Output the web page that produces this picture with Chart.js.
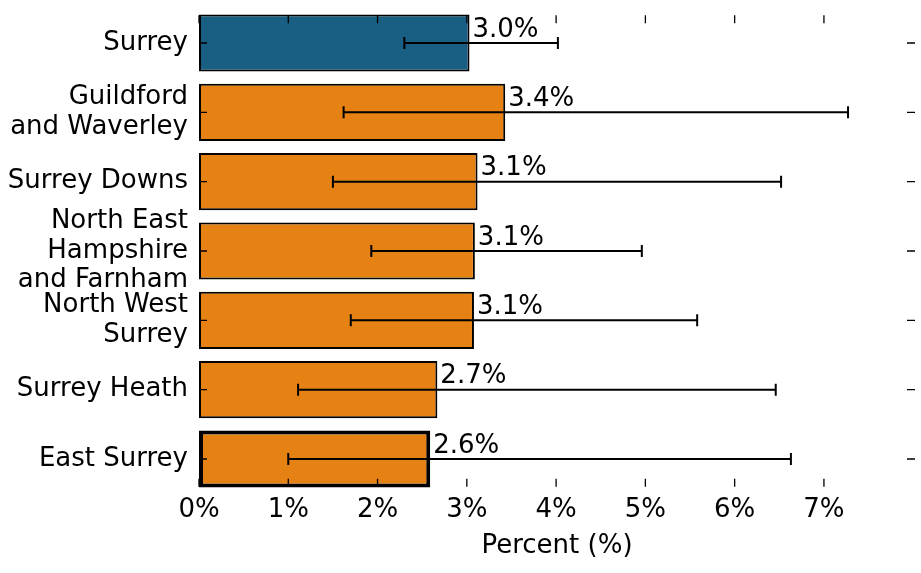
<!DOCTYPE html>
<html>
<head>
<meta charset="utf-8">
<script src="https://cdn.jsdelivr.net/npm/chart.js@4.4.1/dist/chart.umd.min.js"></script>
<style>
  html, body { margin: 0; padding: 0; background: #fff; }
  #wrap { width: 921px; height: 573px; }
</style>
</head>
<body>
<div id="wrap"><canvas id="c" width="921" height="573"></canvas></div>
<script>
const categories = ['Surrey', ['Guildford', 'and Waverley'], 'Surrey Downs', ['North East', 'Hampshire', 'and Farnham'], ['North West', 'Surrey'], 'Surrey Heath', 'East Surrey'];
const values = [3.03, 3.43, 3.12, 3.09, 3.08, 2.67, 2.59];
const lowerCI = [2.30, 1.62, 1.50, 1.93, 1.70, 1.11, 1.00];
const upperCI = [4.02, 7.27, 6.52, 4.96, 5.58, 6.46, 6.63];
const valueLabels = ['3.0%', '3.4%', '3.1%', '3.1%', '3.1%', '2.7%', '2.6%'];
const xTickValues = [0, 1, 2, 3, 4, 5, 6, 7];

const FONT = '"DejaVu Sans", sans-serif';
const barColors = ['#185f83', '#e68214', '#e68214', '#e68214', '#e68214', '#e68214', '#e68214'];
const barBorders = [2, 2, 2, 2, 2, 2, 4];

const overlay = {
  id: 'overlay',
  afterDatasetsDraw(chart) {
    const { ctx, scales: { x, y } } = chart;
    ctx.save();
    // error bars
    ctx.strokeStyle = '#000';
    ctx.lineWidth = 2;
    categories.forEach((c, i) => {
      const yc = y.getPixelForValue(i);
      const x0 = x.getPixelForValue(lowerCI[i]);
      const x1 = x.getPixelForValue(upperCI[i]);
      ctx.beginPath();
      ctx.moveTo(x0, yc); ctx.lineTo(x1, yc);
      ctx.moveTo(x0, yc - 6); ctx.lineTo(x0, yc + 6);
      ctx.moveTo(x1, yc - 6); ctx.lineTo(x1, yc + 6);
      ctx.stroke();
    });
    // value labels
    ctx.font = '26px ' + FONT;
    ctx.fillStyle = '#000';
    ctx.textAlign = 'left';
    ctx.textBaseline = 'bottom';
    values.forEach((v, i) => {
      ctx.fillText(valueLabels[i], x.getPixelForValue(v) + 3, y.getPixelForValue(i));
    });
    // inward tick marks
    const top = y.getPixelForValue(-0.4);
    const bottom = y.getPixelForValue(categories.length - 1 + 0.4);
    const left = x.getPixelForValue(0);
    const right = x.right;
    const tl = 8;
    ctx.lineWidth = 1.3;
    ctx.beginPath();
    xTickValues.forEach(v => {
      const px = x.getPixelForValue(v);
      ctx.moveTo(px, top); ctx.lineTo(px, top + tl);
      ctx.moveTo(px, bottom); ctx.lineTo(px, bottom - tl);
    });
    categories.forEach((c, i) => {
      const py = y.getPixelForValue(i);
      ctx.moveTo(left, py); ctx.lineTo(left + tl, py);
      ctx.moveTo(right, py); ctx.lineTo(right - tl, py);
    });
    ctx.stroke();
    ctx.restore();
  }
};

const zeroPad = s => { s.paddingTop = 0; s.paddingBottom = 0; s.paddingLeft = 0; s.paddingRight = 0; };

new Chart(document.getElementById('c'), {
  type: 'bar',
  data: {
    labels: categories,
    datasets: [{
      data: values,
      backgroundColor: barColors,
      borderColor: '#000',
      borderWidth: barBorders,
      borderSkipped: false,
      barPercentage: 0.825,
      categoryPercentage: 1.0
    }]
  },
  options: {
    indexAxis: 'y',
    responsive: false,
    animation: false,
    devicePixelRatio: 1,
    layout: { padding: { top: 8.33, right: 6, left: 0, bottom: 0 } },
    plugins: { legend: { display: false }, tooltip: { enabled: false } },
    scales: {
      y: {
        type: 'category',
        offset: true,
        grid: { display: false, drawTicks: false },
        border: { display: false },
        ticks: {
          color: '#000',
          font: { family: FONT, size: 26, lineHeight: 1.14 },
          padding: 11,
          autoSkip: false
        },
        afterFit: s => { s.width = 199; zeroPad(s); }
      },
      x: {
        type: 'linear',
        min: 0,
        max: 8.02,
        grid: { display: false, drawTicks: false },
        border: { display: false },
        afterBuildTicks: s => { s.ticks = xTickValues.map(v => ({ value: v })); },
        ticks: {
          color: '#000',
          font: { family: FONT, size: 26 },
          padding: 1,
          maxRotation: 0,
          autoSkip: false,
          callback: v => v + '%'
        },
        title: {
          display: true,
          text: 'Percent (%)',
          color: '#000',
          font: { family: FONT, size: 26 },
          padding: { top: 0, bottom: 11.5 }
        },
        afterFit: s => { s.height = 79.33; zeroPad(s); }
      }
    }
  },
  plugins: [overlay]
});
</script>
</body>
</html>
